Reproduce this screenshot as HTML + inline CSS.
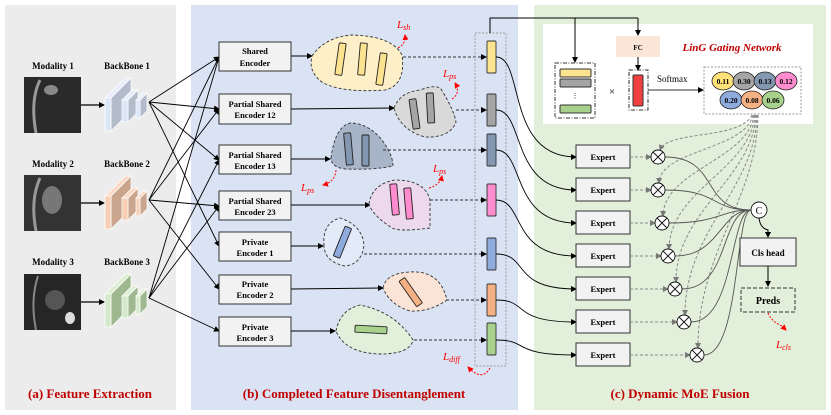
<!DOCTYPE html>
<html><head><meta charset="utf-8"><style>
html,body{margin:0;padding:0;background:#fff;width:831px;height:415px;overflow:hidden}
text{font-family:"Liberation Serif",serif}
</style></head><body>
<svg width="831" height="415" viewBox="0 0 831 415" xmlns="http://www.w3.org/2000/svg">
<defs>
<marker id="ah" markerWidth="6" markerHeight="6" refX="5" refY="3" orient="auto" markerUnits="userSpaceOnUse"><path d="M0,0 L6,3 L0,6z" fill="#000"/></marker>
<marker id="ag" markerWidth="6" markerHeight="6" refX="5" refY="3" orient="auto" markerUnits="userSpaceOnUse"><path d="M0,0 L6,3 L0,6z" fill="#777"/></marker>
<marker id="ar" markerWidth="6" markerHeight="6" refX="5" refY="3" orient="auto" markerUnits="userSpaceOnUse"><path d="M0,0 L6,3 L0,6z" fill="#f00"/></marker>
</defs>
<rect x="5" y="5" width="171" height="405" fill="#ececec"/>
<rect x="191" y="5" width="327" height="405" fill="#dae3f3"/>
<rect x="534" y="5" width="292" height="405" fill="#e2efda"/>

<!-- modalities -->
<g font-size="9" font-weight="bold" text-anchor="middle">
<text x="53" y="69">Modality 1</text><text x="127" y="69">BackBone 1</text>
<text x="53" y="167">Modality 2</text><text x="127" y="167">BackBone 2</text>
<text x="53" y="265">Modality 3</text><text x="127" y="265">BackBone 3</text>
</g>
<rect x="24" y="77" width="57" height="56" fill="#2a2a2a"/>
<path d="M40,80 Q30,100 36,133" stroke="#999" stroke-width="3" fill="none"/><ellipse cx="51" cy="90" rx="7" ry="5" fill="#888"/>
<rect x="24" y="175" width="57" height="56" fill="#333"/>
<path d="M40,178 Q30,200 36,231" stroke="#999" stroke-width="3" fill="none"/><ellipse cx="52" cy="200" rx="10" ry="14" fill="#777"/>
<rect x="24" y="274" width="57" height="56" fill="#262626"/>
<path d="M38,276 Q30,300 36,330" stroke="#888" stroke-width="2" fill="none"/><ellipse cx="55" cy="300" rx="10" ry="10" fill="#555"/><ellipse cx="70" cy="318" rx="5" ry="6" fill="#ddd"/>
<g stroke="#000" stroke-width="1.2" marker-end="url(#ah)">
<line x1="81" y1="105" x2="104" y2="105"/><line x1="81" y1="203" x2="104" y2="203"/><line x1="81" y1="302" x2="104" y2="302"/>
</g>
<!-- backbones -->
<g id="bb1" stroke="#fff" stroke-width="0.7">
<polygon points="111,98 131,78 131,111 111,131" fill="#b4bccb"/><polygon points="105,98 125,78 131,78 111,98" fill="#e6eefb"/><rect x="105" y="98" width="6" height="33" fill="#dbe6f7"/>
<polygon points="128,100 138,90 138,112 128,122" fill="#b4bccb"/><polygon points="122,100 132,90 138,90 128,100" fill="#e6eefb"/><rect x="122" y="100" width="6" height="22" fill="#dbe6f7"/>
<polygon points="140,100 147,93 147,111 140,118" fill="#b4bccb"/><polygon points="136,100 143,93 147,93 140,100" fill="#e6eefb"/><rect x="136" y="100" width="4" height="18" fill="#dbe6f7"/>
</g>
<g transform="translate(0,98)" stroke="#fff" stroke-width="0.7">
<polygon points="111,98 131,78 131,111 111,131" fill="#c9a58e"/><polygon points="105,98 125,78 131,78 111,98" fill="#fbd9c4"/><rect x="105" y="98" width="6" height="33" fill="#f7cfb5"/>
<polygon points="128,100 138,90 138,112 128,122" fill="#c9a58e"/><polygon points="122,100 132,90 138,90 128,100" fill="#fbd9c4"/><rect x="122" y="100" width="6" height="22" fill="#f7cfb5"/>
<polygon points="140,100 147,93 147,111 140,118" fill="#c9a58e"/><polygon points="136,100 143,93 147,93 140,100" fill="#fbd9c4"/><rect x="136" y="100" width="4" height="18" fill="#f7cfb5"/>
</g>
<g transform="translate(0,196)" stroke="#fff" stroke-width="0.7">
<polygon points="111,98 131,78 131,111 111,131" fill="#9fb890"/><polygon points="105,98 125,78 131,78 111,98" fill="#deefd4"/><rect x="105" y="98" width="6" height="33" fill="#d4e9c9"/>
<polygon points="128,100 138,90 138,112 128,122" fill="#9fb890"/><polygon points="122,100 132,90 138,90 128,100" fill="#deefd4"/><rect x="122" y="100" width="6" height="22" fill="#d4e9c9"/>
<polygon points="140,100 147,93 147,111 140,118" fill="#9fb890"/><polygon points="136,100 143,93 147,93 140,100" fill="#deefd4"/><rect x="136" y="100" width="4" height="18" fill="#d4e9c9"/>
</g>
<!-- backbone -> encoders -->
<g stroke="#000" stroke-width="0.9" marker-end="url(#ah)">
<line x1="149" y1="102" x2="219" y2="57"/><line x1="149" y1="102" x2="219" y2="109"/><line x1="149" y1="102" x2="219" y2="160"/><line x1="149" y1="102" x2="219" y2="246"/>
<line x1="149" y1="200" x2="219" y2="57"/><line x1="149" y1="200" x2="219" y2="109"/><line x1="149" y1="200" x2="219" y2="206"/><line x1="149" y1="200" x2="219" y2="289"/>
<line x1="149" y1="298" x2="219" y2="57"/><line x1="149" y1="298" x2="219" y2="160"/><line x1="149" y1="298" x2="219" y2="206"/><line x1="149" y1="298" x2="219" y2="331"/>
</g>
<!-- encoders -->
<g fill="#f2f2f2" stroke="#333" stroke-width="1">
<rect x="219" y="42" width="72" height="29"/><rect x="219" y="94" width="72" height="30"/><rect x="219" y="145" width="72" height="29"/><rect x="219" y="191" width="72" height="29"/><rect x="219" y="232" width="72" height="29"/><rect x="219" y="275" width="72" height="29"/><rect x="219" y="317" width="72" height="29"/>
</g>
<g font-size="8.5" font-weight="bold" text-anchor="middle">
<text x="255" y="54">Shared</text><text x="255" y="66">Encoder</text>
<text x="255" y="107">Partial Shared</text><text x="255" y="118">Encoder 12</text>
<text x="255" y="158">Partial Shared</text><text x="255" y="169">Encoder 13</text>
<text x="255" y="204">Partial Shared</text><text x="255" y="215">Encoder 23</text>
<text x="255" y="245">Private</text><text x="255" y="256">Encoder 1</text>
<text x="255" y="287">Private</text><text x="255" y="298">Encoder 2</text>
<text x="255" y="330">Private</text><text x="255" y="341">Encoder 3</text>
</g>
<g stroke="#000" stroke-width="0.9" marker-end="url(#ah)">
<line x1="291" y1="56" x2="312" y2="56"/><line x1="291" y1="109" x2="394" y2="108"/><line x1="291" y1="159" x2="330" y2="159"/><line x1="291" y1="205" x2="370" y2="205"/><line x1="291" y1="246" x2="323" y2="246"/><line x1="291" y1="289" x2="383" y2="288"/><line x1="291" y1="331" x2="335" y2="331"/>
</g>
<!-- blobs -->
<g stroke="#333" stroke-width="0.9" stroke-dasharray="3,2">
<path d="M312,56 Q325,37 352,35 Q392,36 402,55 Q406,85 385,90 Q340,93 322,82 Q308,72 312,56z" fill="#fdf0c8"/>
<path d="M394,108 Q400,92 420,90 Q436,84 441,89 Q454,110 456,122 Q450,138 425,137 Q400,130 394,108z" fill="#d9d9d9"/>
<path d="M331,158 Q335,127 350,123 Q368,123 382,140 Q393,155 393,166 Q375,170 345,169 Q331,167 331,158z" fill="#a8b4c8"/>
<path d="M369,204 Q372,184 395,180 Q425,180 430,200 L430,228 Q400,232 392,228 Q372,215 369,204z" fill="#ecd9ee"/>
<path d="M324,246 Q322,223 340,218 Q362,225 364,245 Q362,264 345,266 Q325,262 324,246z" fill="#e3ebf8"/>
<path d="M383,288 Q386,273 410,272 Q440,270 447,300 Q430,312 410,311 Q390,305 383,288z" fill="#fbe4d5"/>
<path d="M336,331 Q340,310 360,305 Q395,312 413,340 Q410,354 380,354 Q345,353 336,331z" fill="#e2efda"/>
</g>
<g stroke="#222" stroke-width="0.9">
<rect x="337" y="43" width="7" height="32" rx="1" fill="#fbe38f" transform="rotate(8 340 59)"/>
<rect x="359" y="43" width="7" height="32" rx="1" fill="#fbe38f" transform="rotate(5 362 59)"/>
<rect x="378" y="53" width="7" height="32" rx="1" fill="#fbe38f" transform="rotate(8 381 69)"/>
<rect x="411" y="99" width="7" height="30" rx="1" fill="#a5a5a5" transform="rotate(-8 414 114)"/>
<rect x="427" y="93" width="7" height="30" rx="1" fill="#a5a5a5" transform="rotate(-3 430 108)"/>
<rect x="345" y="133" width="7" height="32" rx="1" fill="#8497b0" transform="rotate(-5 348 149)"/>
<rect x="362" y="135" width="7" height="31" rx="1" fill="#8497b0"/>
<rect x="391" y="184" width="7" height="31" rx="1" fill="#ff8ccf" transform="rotate(-5 394 199)"/>
<rect x="405" y="188" width="7" height="31" rx="1" fill="#ff8ccf" transform="rotate(-5 408 203)"/>
<rect x="339" y="226" width="7" height="32" rx="1" fill="#8faadc" transform="rotate(22 342 242)"/>
<rect x="407" y="277" width="7" height="31" rx="1" fill="#f4b183" transform="rotate(-35 410 292)"/>
<rect x="355" y="326" width="32" height="7" rx="1" fill="#a9d18e" transform="rotate(3 371 329)"/>
</g>
<!-- dashed to bars -->
<g stroke="#333" stroke-width="0.9" stroke-dasharray="3,2" marker-end="url(#ah)">
<line x1="403" y1="57" x2="486" y2="57"/><line x1="456" y1="110" x2="486" y2="110"/><line x1="383" y1="150" x2="486" y2="150"/><line x1="430" y1="200" x2="486" y2="200"/><line x1="364" y1="254" x2="486" y2="254"/><line x1="446" y1="300" x2="486" y2="300"/><line x1="414" y1="340" x2="486" y2="340"/>
</g>
<rect x="475" y="33" width="31" height="333" fill="none" stroke="#999" stroke-dasharray="2,1.5" stroke-width="0.9"/>
<g stroke="#333" stroke-width="0.9">
<rect x="487" y="41" width="9" height="32" rx="1" fill="#fbe38f"/><rect x="487" y="94" width="9" height="32" rx="1" fill="#a5a5a5"/><rect x="487" y="134" width="9" height="32" rx="1" fill="#8497b0"/><rect x="487" y="184" width="9" height="32" rx="1" fill="#ff8ccf"/><rect x="487" y="238" width="9" height="32" rx="1" fill="#8faadc"/><rect x="487" y="284" width="9" height="32" rx="1" fill="#f4b183"/><rect x="487" y="323" width="9" height="32" rx="1" fill="#a9d18e"/>
</g>
<!-- losses -->
<g fill="#f00" font-style="italic" font-size="11">
<text x="397" y="28">L<tspan font-size="8" dy="2">sh</tspan></text>
<text x="443" y="77">L<tspan font-size="8" dy="2">ps</tspan></text>
<text x="301" y="191">L<tspan font-size="8" dy="2">ps</tspan></text>
<text x="433" y="172">L<tspan font-size="8" dy="2">ps</tspan></text>
<text x="443" y="360">L<tspan font-size="8" dy="2">diff</tspan></text>
<text x="776" y="348">L<tspan font-size="8" dy="2">cls</tspan></text>
</g>
<g stroke="#f00" stroke-width="1" stroke-dasharray="2,1.5" fill="none" marker-end="url(#ar)">
<path d="M398,48 Q406,44 405,35"/><path d="M452,99 Q461,93 455,83"/><path d="M336,170 Q335,182 323,185"/><path d="M429,188 Q440,185 442,176"/><path d="M490,368 Q482,382 468,367"/><path d="M768,313 Q772,322 782,326 L786,330"/>
</g>
<!-- top routing -->
<g stroke="#000" stroke-width="1" fill="none">
<polyline points="490,33 490,18 638,18"/>
<line x1="575" y1="18" x2="575" y2="62" marker-end="url(#ah)"/>
<line x1="638" y1="18" x2="638" y2="35" marker-end="url(#ah)"/>
</g>
<rect x="543" y="24" width="270" height="100" fill="#fff"/>
<g stroke="#000" stroke-width="1" fill="none">
<line x1="575" y1="18" x2="575" y2="62" marker-end="url(#ah)"/>
<line x1="638" y1="24" x2="638" y2="35" marker-end="url(#ah)"/>
</g>
<rect x="616" y="36" width="44" height="21" fill="#fbe5d6"/>
<text x="638" y="50" font-size="7" font-weight="bold" text-anchor="middle">FC</text>
<line x1="638" y1="57" x2="638" y2="70" stroke="#000" marker-end="url(#ah)"/>
<text x="732" y="51" font-size="11" font-weight="bold" font-style="italic" fill="#c00000" text-anchor="middle">LinG Gating Network</text>
<rect x="555" y="63" width="40" height="55" fill="none" stroke="#333" stroke-dasharray="4,1.5,1,1.5"/>
<rect x="560" y="69" width="31" height="8" rx="1" fill="#fbe38f" stroke="#333"/>
<rect x="560" y="79" width="31" height="8" rx="1" fill="#a5a5a5" stroke="#333"/>
<text x="575" y="98" font-size="7" text-anchor="middle">⋮</text>
<rect x="560" y="105" width="31" height="8" rx="1" fill="#a9d18e" stroke="#333"/>
<text x="612" y="95" font-size="11" text-anchor="middle">×</text>
<rect x="629" y="70" width="19" height="40" fill="none" stroke="#333" stroke-dasharray="4,1.5,1,1.5"/>
<rect x="633" y="75" width="10" height="31" rx="1" fill="#f04040" stroke="#333"/>
<text x="657" y="82" font-size="9">Softmax</text>
<line x1="648" y1="90" x2="703" y2="90" stroke="#333" marker-end="url(#ah)"/>
<rect x="704" y="67" width="97" height="47" fill="none" stroke="#999" stroke-dasharray="2,1.5"/>
<g stroke="#222" stroke-width="0.8">
<ellipse cx="723" cy="81" rx="11" ry="9" fill="#ffe17a"/><ellipse cx="744" cy="81" rx="11" ry="9" fill="#a5a5a5"/><ellipse cx="765" cy="81" rx="11" ry="9" fill="#8497b0"/><ellipse cx="786" cy="81" rx="11" ry="9" fill="#ff8ccf"/>
<ellipse cx="731" cy="100" rx="11" ry="9" fill="#8faadc"/><ellipse cx="752" cy="100" rx="11" ry="9" fill="#f4b183"/><ellipse cx="773" cy="100" rx="11" ry="9" fill="#a9d18e"/>
</g>
<g font-size="7.5" font-weight="bold" text-anchor="middle">
<text x="723" y="84">0.11</text><text x="744" y="84">0.30</text><text x="765" y="84">0.13</text><text x="786" y="84">0.12</text>
<text x="731" y="103">0.20</text><text x="752" y="103">0.08</text><text x="773" y="103">0.06</text>
</g>
<!-- bars -> experts -->
<g stroke="#000" stroke-width="0.9" fill="none" marker-end="url(#ah)">
<path d="M496,57 C525,57 505,157 576,157"/><path d="M496,110 C525,110 510,190 576,190"/><path d="M496,150 C525,150 510,223 576,223"/><path d="M496,200 C525,200 510,256 576,256"/><path d="M496,254 C530,254 510,289 576,289"/><path d="M496,300 C530,300 510,322 576,322"/><path d="M496,340 C530,340 510,355 576,355"/>
</g>
<g fill="#f2f2f2" stroke="#333"><rect x="576" y="145" width="54" height="23"/><rect x="576" y="178" width="54" height="23"/><rect x="576" y="211" width="54" height="23"/><rect x="576" y="244" width="54" height="23"/><rect x="576" y="277" width="54" height="23"/><rect x="576" y="310" width="54" height="23"/><rect x="576" y="343" width="54" height="23"/></g>
<g font-size="8.5" font-weight="bold" text-anchor="middle"><text x="603" y="160">Expert</text><text x="603" y="193">Expert</text><text x="603" y="226">Expert</text><text x="603" y="259">Expert</text><text x="603" y="292">Expert</text><text x="603" y="325">Expert</text><text x="603" y="358">Expert</text></g>
<g stroke="#888" stroke-dasharray="3,2" fill="none" marker-end="url(#ag)">
<line x1="630" y1="157" x2="651" y2="157"/><line x1="630" y1="190" x2="651" y2="190"/><line x1="630" y1="223" x2="655" y2="223"/><line x1="630" y1="256" x2="661" y2="256"/><line x1="630" y1="289" x2="668" y2="289"/><line x1="630" y1="322" x2="677" y2="322"/><line x1="630" y1="355" x2="690" y2="355"/>
<path d="M752,115 C740,140 668,130 660,150"/><path d="M753,115 C745,150 660,150 659,183"/><path d="M754,115 C748,160 664,170 663,216"/><path d="M755,115 C750,170 670,190 669,249"/><path d="M756,115 C752,180 676,210 676,282"/><path d="M757,115 C755,190 685,230 685,315"/><path d="M758,115 C757,200 698,250 698,348"/>
</g>
<g stroke="#555" stroke-width="0.9" fill="none">
<path d="M665,157 C720,157 700,210 751,210"/><path d="M665,190 C720,190 710,210 751,210"/><path d="M669,223 C720,223 720,210 751,210"/><path d="M675,256 C720,256 720,210 751,210"/><path d="M682,289 C730,289 720,210 751,210"/><path d="M691,322 C735,322 730,210 751,210"/><path d="M704,355 C740,355 735,210 751,210"/>
</g>
<g stroke="#111" stroke-width="0.9" fill="#fff">
<g transform="translate(658,157)"><circle r="7"/><path d="M-5,-5L5,5M5,-5L-5,5"/></g>
<g transform="translate(658,190)"><circle r="7"/><path d="M-5,-5L5,5M5,-5L-5,5"/></g>
<g transform="translate(662,223)"><circle r="7"/><path d="M-5,-5L5,5M5,-5L-5,5"/></g>
<g transform="translate(668,256)"><circle r="7"/><path d="M-5,-5L5,5M5,-5L-5,5"/></g>
<g transform="translate(675,289)"><circle r="7"/><path d="M-5,-5L5,5M5,-5L-5,5"/></g>
<g transform="translate(684,322)"><circle r="7"/><path d="M-5,-5L5,5M5,-5L-5,5"/></g>
<g transform="translate(697,355)"><circle r="7"/><path d="M-5,-5L5,5M5,-5L-5,5"/></g>
<circle cx="759" cy="210" r="8"/>
</g>
<text x="759" y="214" font-size="10" text-anchor="middle">C</text>
<path d="M759,218 Q760,228 768,230 L768,237" stroke="#000" fill="none" marker-end="url(#ah)"/>
<rect x="740" y="238" width="56" height="28" fill="#f2f2f2" stroke="#333"/>
<text x="768" y="256" font-size="9" font-weight="bold" text-anchor="middle">Cls head</text>
<line x1="768" y1="266" x2="768" y2="286" stroke="#000" marker-end="url(#ah)"/>
<rect x="741" y="288" width="54" height="24" fill="none" stroke="#333" stroke-dasharray="4,2"/>
<text x="768" y="304" font-size="10" font-weight="bold" text-anchor="middle">Preds</text>
<!-- captions -->
<g font-size="13" font-weight="bold" fill="#c00000" text-anchor="middle">
<text x="90" y="398">(a) Feature Extraction</text>
<text x="354" y="398">(b) Completed Feature Disentanglement</text>
<text x="680" y="398">(c) Dynamic MoE Fusion</text>
</g>
</svg>
</body></html>
